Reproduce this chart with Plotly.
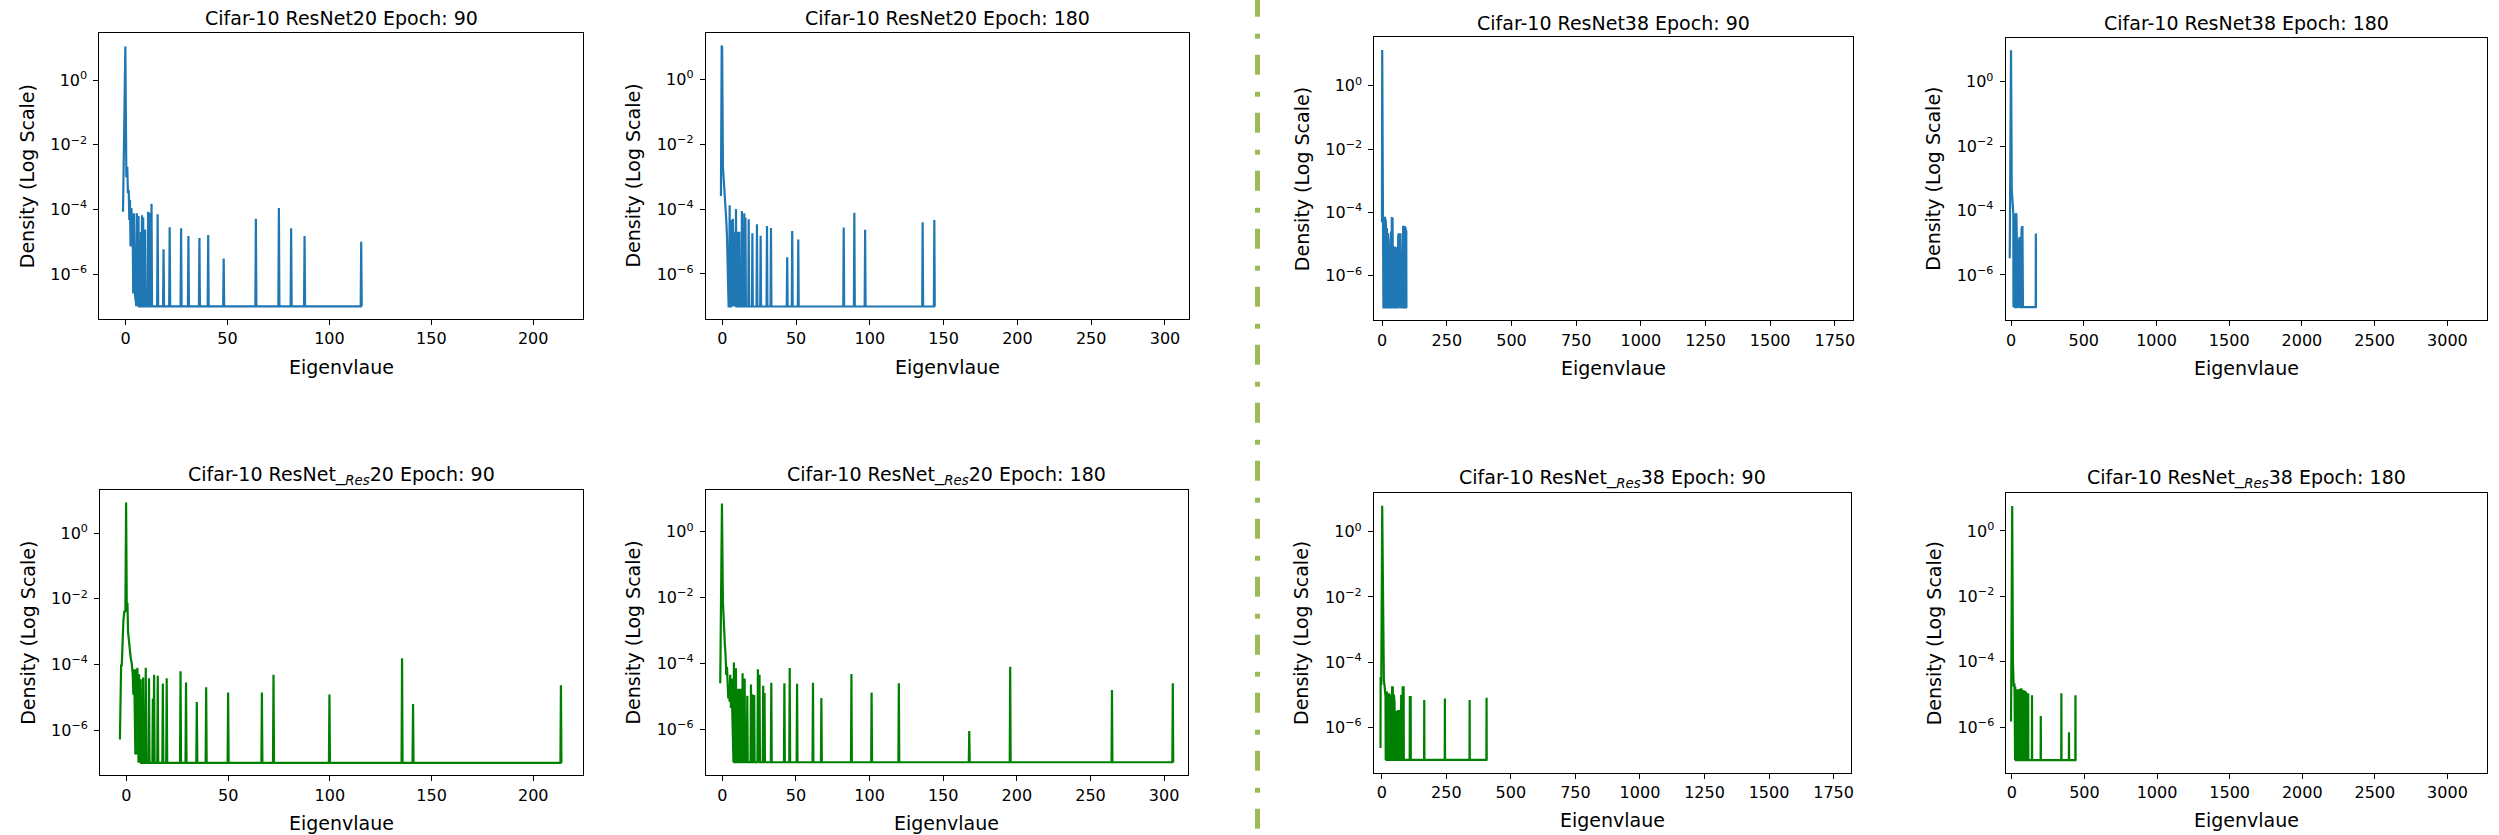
import plotly.graph_objects as go

W, H = 2499, 835
FLOOR = 1e-7
BLUE = "#1f77b4"
GREEN = "#008000"
FONT = "DejaVu Sans"

# ------------------------------------------------------------------ data
titles = [
    "Cifar-10 ResNet20 Epoch: 90",
    "Cifar-10 ResNet20 Epoch: 180",
    "Cifar-10 ResNet38 Epoch: 90",
    "Cifar-10 ResNet38 Epoch: 180",
    "Cifar-10 ResNet_<sub><i>Res</i></sub>20 Epoch: 90",
    "Cifar-10 ResNet_<sub><i>Res</i></sub>20 Epoch: 180",
    "Cifar-10 ResNet_<sub><i>Res</i></sub>38 Epoch: 90",
    "Cifar-10 ResNet_<sub><i>Res</i></sub>38 Epoch: 180",
]
x_label = "Eigenvlaue"
y_label = "Density (Log Scale)"
y_tick_vals = [1e0, 1e-2, 1e-4, 1e-6]
y_tick_text = ["10<sup>0</sup>", "10<sup>\u22122</sup>", "10<sup>\u22124</sup>", "10<sup>\u22126</sup>"]

# ResNet20, epoch 90
r20_e90_head_x = [-1.3, -0.16, 0.33, 0.8, 1.1, 1.5, 1.8, 2.1, 2.4, 2.8, 3.1, 3.4, 3.7, 4.1, 4.6, 4.9]
r20_e90_head_y = [8.5e-5, 11.2, 1.0e-3, 2.1e-3, 3.2e-4, 4.0e-4, 4.7e-5, 2.0e-4, 7.1e-6, 1.1e-4,
                  4.7e-5, 6.3e-5, 2.5e-7, 7.6e-5, 2.2e-7, 1e-7]
r20_e90_spike_x = [5.5, 6.3, 7.5, 8.0, 8.6, 9.5, 11.0, 11.6, 12.7, 15.7, 18.6, 21.6, 27.2, 30.8,
                   36.2, 40.5, 48.1, 63.9, 75.2, 81.2, 87.8, 115.6]
r20_e90_spike_y = [7.6e-5, 6.3e-5, 2.0e-5, 6.6e-5, 5.6e-5, 2.4e-5, 8.5e-5, 7.9e-5, 1.5e-4, 7.1e-5,
                   5.8e-6, 2.8e-5, 2.6e-5, 1.5e-5, 1.3e-5, 1.6e-5, 3.0e-6, 5.1e-5, 1.1e-4, 2.6e-5,
                   1.5e-5, 1.0e-5]

# ResNet20, epoch 180
r20_e180_head_x = [-0.9, -0.4, -0.1, 0.45, 0.9, 1.4, 1.8, 2.3, 2.7, 3.2, 3.8, 4.3]
r20_e180_head_y = [2.5e-4, 10.7, 9.5, 2.0e-3, 1.0e-3, 3.9e-4, 3.2e-4, 1.2e-4, 4.6e-5, 1.4e-5, 6.5e-7, 1e-7]
r20_e180_spike_x = [5.0, 6.1, 7.2, 8.2, 9.3, 10.6, 11.5, 13.3, 14.9, 15.7, 17.9, 20.4, 23.5, 26.0,
                    30.3, 33.0, 44.0, 47.4, 51.5, 82.3, 89.5, 96.8, 135.8, 143.7]
r20_e180_spike_y = [1.3e-4, 4.6e-5, 5.0e-5, 2.0e-5, 1.0e-4, 2.0e-5, 2.0e-5, 8.7e-5, 7.4e-5, 5.5e-5,
                    4.8e-5, 1.8e-5, 3.4e-5, 1.5e-5, 3.0e-5, 2.6e-5, 3.3e-6, 2.1e-5, 1.15e-5, 2.7e-5,
                    7.6e-5, 2.3e-5, 3.9e-5, 4.6e-5]

# ResNet38, epoch 90
r38_e90_head_x = [-3.2, -1.0, 0.0, 1.5, 3.0]
r38_e90_head_y = [5.1e-5, 5.1e-5, 13.5, 1.2e-4, 1e-7]
r38_e90_spike_x = [4, 6, 8, 9.6, 12, 14, 16, 18, 20, 22.4, 25, 27, 29.5, 32, 34.5, 37, 40, 43, 46,
                   49.7, 52, 54, 59.3, 62, 64, 67, 70.5, 73, 75.3, 78.5, 81, 83.3, 86, 88, 90.5, 93]
r38_e90_spike_y = [7.9e-5, 6.3e-5, 6.3e-5, 7.2e-5, 6.3e-5, 5.6e-5, 5.1e-5, 3.2e-5, 2.5e-5, 2.2e-5,
                   1.26e-5, 8.3e-6, 1.0e-5, 9.3e-6, 2.5e-5, 7.2e-5, 6.8e-5, 8.3e-6, 8.3e-6, 8.3e-6,
                   7.9e-6, 7.9e-6, 4.5e-7, 2.0e-5, 2.2e-5, 2.2e-5, 2.2e-5, 2.0e-5, 4.5e-7, 3.5e-5,
                   3.8e-5, 3.8e-5, 3.5e-5, 3.5e-5, 3.2e-5, 2.75e-5]

# ResNet38, epoch 180
r38_e180_head_x = [-9.0, -8.0, -4.0, 0.0, 5.0, 10.5, 15.7, 16.8]
r38_e180_head_y = [3.3e-6, 4.5e-5, 4.5e-5, 9.5, 4.4e-4, 2.1e-4, 8.1e-5, 1e-7]
r38_e180_spike_x = [18, 21, 24, 26, 29, 31.5, 34, 36.7, 40, 44, 47, 50, 52.5, 56, 60, 64, 68, 72,
                    76, 78.5, 81, 170.6]
r38_e180_spike_y = [6.3e-5, 6.5e-5, 7.9e-5, 8.1e-5, 7.9e-5, 8.1e-5, 7.9e-5, 8.1e-5, 1.26e-5,
                    1.1e-5, 1.07e-5, 1.1e-5, 1.15e-5, 1.26e-5, 1.5e-5, 1.4e-5, 1.5e-5, 2.5e-5,
                    3.2e-5, 3.3e-5, 3.3e-5, 1.95e-5]

# ResNet_Res20, epoch 90
rr20_e90_head_x = [-3.2, -3.0, -2.6, -2.3, -2.0, -1.5, -1.0, -0.5, -0.16, 0.16, 0.5, 0.8, 1.15,
                   1.6, 2.1, 2.6, 3.1, 3.4, 3.8, 4.1, 4.4, 4.75, 5.05, 5.4, 5.7]
rr20_e90_head_y = [5.1e-7, 2.8e-5, 1.0e-4, 8.9e-5, 3.2e-4, 2.1e-3, 4.3e-3, 4.0e-3, 8.7, 6.8e-3,
                   7.6e-3, 1.0e-3, 4.1e-4, 3.2e-4, 1.6e-4, 1.1e-4, 5.0e-5, 1.2e-5, 7.1e-5, 2.3e-6,
                   1.8e-7, 7.1e-5, 1.8e-7, 7.9e-5, 1e-7]
rr20_e90_spike_x = [6.2, 7.0, 8.2, 9.5, 11.1, 13.0, 13.6, 15.4, 17.9, 19.8, 26.6, 29.3, 34.6, 39.2,
                    50.0, 66.6, 72.3, 99.8, 135.5, 140.9, 213.6]
rr20_e90_spike_y = [5.0e-5, 3.5e-5, 4.0e-5, 7.9e-5, 3.8e-5, 9.1e-6, 4.8e-5, 4.5e-5, 2.6e-5, 3.8e-5,
                    6.2e-5, 2.8e-5, 7.1e-6, 2.0e-5, 1.4e-5, 1.4e-5, 4.8e-5, 1.2e-5, 1.55e-4, 6.2e-6,
                    2.3e-5]

# ResNet_Res20, epoch 180
rr20_e180_head_x = [-1.36, -0.2, 0.45, 0.9, 1.36, 1.8, 2.26, 2.7, 3.2, 3.6, 4.1, 4.5, 5.0, 5.4, 5.9,
                    6.3, 6.8, 7.2]
rr20_e180_head_y = [2.5e-5, 7.2, 7.4e-3, 1.9e-3, 9.1e-4, 3.6e-4, 1.8e-4, 4.5e-5, 7.9e-5, 3.5e-5,
                    8.7e-6, 2.2e-5, 6.9e-6, 4.5e-5, 4.4e-6, 3.5e-5, 1.7e-6, 1e-7]
rr20_e180_spike_x = [7.9, 9.3, 10.9, 12.4, 13.8, 15.2, 17.0, 19.5, 20.4, 21.7, 24.2, 25.3, 27.8, 28.7,
                     33.3, 42.2, 45.8, 50.8, 61.6, 67.3, 87.7, 101.4, 119.9, 167.7, 195.5, 264.6,
                     305.9]
rr20_e180_spike_y = [1.07e-4, 7.1e-5, 1.7e-5, 1.7e-5, 5.0e-5, 3.5e-5, 1.05e-5, 2.3e-5, 1.15e-5,
                     1.1e-5, 6.6e-5, 4.5e-5, 2.1e-5, 1.26e-5, 2.6e-5, 2.5e-5, 7.2e-5, 2.4e-5, 2.6e-5,
                     8.9e-6, 4.8e-5, 1.3e-5, 2.5e-5, 8.9e-7, 7.9e-5, 1.55e-5, 2.5e-5]

# ResNet_Res38, epoch 90
rr38_e90_head_x = [-5.0, -4.5, -2.0, 1.6, 4.8, 8.0, 11.0, 14.4, 15.2]
rr38_e90_head_y = [2.3e-7, 3.5e-5, 2.0e-5, 6.2, 1.3e-4, 2.8e-5, 1.8e-5, 8.7e-6, 1e-7]
rr38_e90_spike_x = [16, 17.6, 20, 22.4, 25, 28.8, 32, 35, 38, 40, 42.5, 44.7, 47, 49.5, 53, 56, 60,
                    64, 66, 68.7, 75, 78.3, 81, 84.7, 108.6, 111.8, 164.5, 244.4, 340.3, 405.8]
rr38_e90_spike_y = [1.0e-5, 1.1e-5, 1.26e-5, 1.26e-5, 1.0e-5, 1.1e-5, 1.0e-5, 8.7e-6, 1.6e-5,
                    1.8e-5, 1.8e-5, 1.8e-5, 1.0e-5, 5.4e-6, 3.2e-6, 5.1e-7, 3.2e-6, 3.4e-6, 3.4e-6,
                    3.4e-6, 1.0e-5, 1.6e-5, 1.8e-5, 1.8e-5, 9.1e-6, 9.1e-6, 6.9e-6, 7.6e-6, 6.9e-6,
                    8.1e-6]

# ResNet_Res38, epoch 180
rr38_e180_head_x = [-5.2, -4.5, 2.6, 7.9, 13.0, 18.4, 19.5]
rr38_e180_head_y = [1.5e-6, 6.0e-6, 5.8, 9.1e-5, 1.74e-5, 2.2e-5, 1e-7]
rr38_e180_spike_x = [21, 23.6, 27, 31.5, 35, 39.4, 43, 47, 52, 57.7, 61, 65.6, 70, 73.5, 79, 84, 88,
                     91.9, 97, 102.4, 107, 112.9, 139, 199.5, 341.2, 393.7, 438.3]
rr38_e180_spike_y = [2.0e-5, 1.74e-5, 1.4e-5, 1.23e-5, 1.38e-5, 1.45e-5, 1.4e-5, 1.38e-5, 1.45e-5,
                     1.5e-5, 1.5e-5, 1.55e-5, 1.26e-5, 6.8e-6, 1.26e-5, 1.3e-5, 1.26e-5, 1.3e-5,
                     1.2e-5, 1.1e-5, 1.1e-5, 1.1e-5, 9.5e-6, 2.2e-6, 1.1e-5, 7.1e-7, 9.5e-6]

x_ticks_by_col = [[0, 50, 100, 150, 200], [0, 50, 100, 150, 200, 250, 300],
                  [0, 250, 500, 750, 1000, 1250, 1500, 1750], [0, 500, 1000, 1500, 2000, 2500, 3000]]

# ------------------------------------------------------------------ layout geometry (px)
boxes = [  # left, top, right, bottom
    (99.5, 32.7, 583.6, 319.0), (706.6, 32.7, 1190.0, 319.0),
    (1376.0, 37.3, 1854.9, 320.3), (2008.1, 37.7, 2490.1, 320.3),
    (100.3, 490.0, 583.6, 775.3), (706.6, 490.3, 1189.1, 775.3),
    (1375.6, 493.3, 1853.6, 772.7), (2008.9, 493.0, 2490.1, 772.7),
]
x_ranges = [(-12.9, 224.4), (-11.2, 316.0), (-30.4, 1819.0), (-36.7, 3273.0)]
y_ranges = [(-7.394, 1.475), (-7.385, 1.425), (-7.408, 1.528), (-7.407, 1.366),
            (-7.382, 1.321), (-7.397, 1.257), (-7.393, 1.178), (-7.387, 1.161)]
spike_half_width = [0.25, 0.3, 0.6, 1.0]

panels = [
    (r20_e90_head_x, r20_e90_head_y, r20_e90_spike_x, r20_e90_spike_y, BLUE),
    (r20_e180_head_x, r20_e180_head_y, r20_e180_spike_x, r20_e180_spike_y, BLUE),
    (r38_e90_head_x, r38_e90_head_y, r38_e90_spike_x, r38_e90_spike_y, BLUE),
    (r38_e180_head_x, r38_e180_head_y, r38_e180_spike_x, r38_e180_spike_y, BLUE),
    (rr20_e90_head_x, rr20_e90_head_y, rr20_e90_spike_x, rr20_e90_spike_y, GREEN),
    (rr20_e180_head_x, rr20_e180_head_y, rr20_e180_spike_x, rr20_e180_spike_y, GREEN),
    (rr38_e90_head_x, rr38_e90_head_y, rr38_e90_spike_x, rr38_e90_spike_y, GREEN),
    (rr38_e180_head_x, rr38_e180_head_y, rr38_e180_spike_x, rr38_e180_spike_y, GREEN),
]


def build_line(hx, hy, sx, sy, hw):
    xs, ys = list(hx), list(hy)
    for a, b in zip(sx, sy):
        xs += [a - hw, a, a + hw]
        ys += [FLOOR, b, FLOOR]
    return xs, ys


fig = go.Figure()
annotations = []
layout = {}
for i, (hx, hy, sx, sy, color) in enumerate(panels):
    col = i % 4
    n = "" if i == 0 else str(i + 1)
    xs, ys = build_line(hx, hy, sx, sy, spike_half_width[col])
    fig.add_trace(go.Scatter(x=xs, y=ys, mode="lines", line=dict(color=color, width=2.2),
                             xaxis="x" + n, yaxis="y" + n, hoverinfo="skip", showlegend=False))
    l, t, r, b = boxes[i]
    axis_common = dict(showline=True, linecolor="black", linewidth=1, mirror=True,
                       ticks="outside", ticklen=5, tickwidth=1, tickcolor="black",
                       showgrid=False, zeroline=False,
                       tickfont=dict(family=FONT, size=16, color="black"))
    layout["xaxis" + n] = dict(axis_common, domain=[l / W, r / W], anchor="y" + n,
                               range=list(x_ranges[col]), tickmode="array",
                               tickvals=x_ticks_by_col[col],
                               ticktext=[str(v) for v in x_ticks_by_col[col]])
    layout["yaxis" + n] = dict(axis_common, domain=[1 - b / H, 1 - t / H], anchor="x" + n,
                               type="log", range=list(y_ranges[i]), tickmode="array",
                               tickvals=y_tick_vals, ticktext=y_tick_text, ticklabelstandoff=3)
    cx = (l + r) / 2 / W
    annotations.append(dict(text=titles[i], x=cx, y=1 - t / H, xref="paper", yref="paper",
                            xanchor="center", yanchor="middle", yshift=14.5, showarrow=False,
                            font=dict(family=FONT, size=19, color="black")))
    annotations.append(dict(text=x_label, x=cx, y=1 - b / H, xref="paper", yref="paper",
                            xanchor="center", yanchor="middle", yshift=-47.7, showarrow=False,
                            font=dict(family=FONT, size=19, color="black")))
    annotations.append(dict(text=y_label, x=l / W, y=1 - (t + b) / 2 / H, xref="paper",
                            yref="paper", xanchor="center", yanchor="middle", xshift=-73,
                            textangle=-90, showarrow=False,
                            font=dict(family=FONT, size=19, color="black")))

fig.update_layout(
    width=W, height=H, autosize=False,
    margin=dict(l=0, r=0, t=0, b=0, pad=0),
    paper_bgcolor="white", plot_bgcolor="white",
    font=dict(family=FONT, color="black"),
    showlegend=False,
    annotations=annotations,
    shapes=[dict(type="line", xref="paper", yref="paper", x0=1259 / W, x1=1259 / W,
                 y0=1 + 3.3 / H, y1=0, line=dict(color="#9bbb59", width=5,
                                                  dash="20px,17px,5px,16px"))],
    **layout,
)

fig.write_html("out.html")
